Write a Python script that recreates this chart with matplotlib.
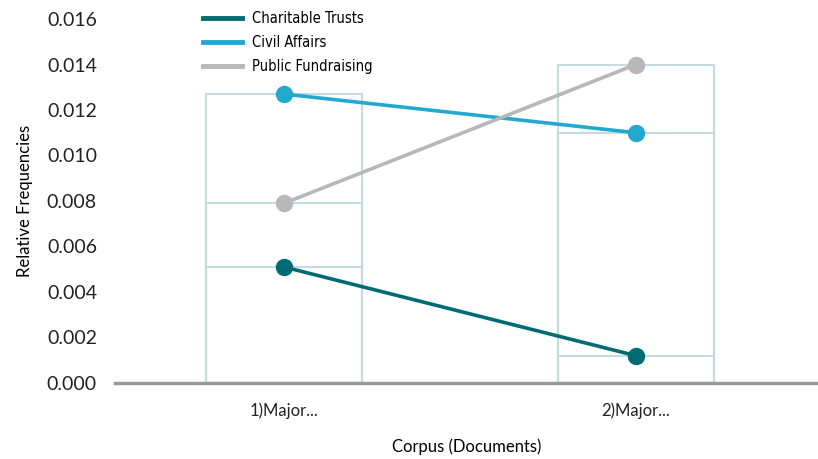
import matplotlib.pyplot as plt
import numpy as np

categories = ["1)Major...", "2)Major..."]
series_names = ["Charitable Trusts", "Civil Affairs", "Public Fundraising"]
charitable_trusts = [0.0051, 0.0012]
civil_affairs = [0.0127, 0.0110]
public_fundraising = [0.0079, 0.0140]
yticks = [0.000, 0.002, 0.004, 0.006, 0.008, 0.010, 0.012, 0.014, 0.016]

colors = ["#006b73", "#23a9cf", "#b8b8b8"]
bar_edge = "#c6dbe0"

plt.rcParams["font.family"] = ["Lato", "DejaVu Sans"]

fig = plt.figure(figsize=(8.18, 4.59), dpi=100)
ax = fig.add_axes([0.1406, 0.1656, 0.8594, 0.793])

x = np.arange(len(categories))
all_series = [charitable_trusts, civil_affairs, public_fundraising]

# outlined bars, one per series, drawn on top of each other
for vals in all_series:
    ax.bar(x, vals, width=0.445, facecolor="none", edgecolor=bar_edge,
           linewidth=1.5, zorder=1)

for name, vals, c in zip(series_names, all_series, colors):
    ax.plot(x, vals, color=c, linewidth=2.6, marker="o", markersize=11.5,
            label=name, zorder=3)

ax.set_xlim(-0.48, 1.517)
ax.set_ylim(0, 0.016)
ax.set_yticks(yticks)
ax.set_yticklabels([f"{v:.3f}" for v in yticks], fontsize=14)
ax.set_xticks(x)
ax.set_xticklabels(categories, fontsize=12)
ax.tick_params(axis="both", length=0, colors="#222222")
ax.tick_params(axis="y", pad=13)
ax.tick_params(axis="x", pad=14)

for s in ["top", "right", "left"]:
    ax.spines[s].set_visible(False)
ax.spines["bottom"].set_color("#999999")
ax.spines["bottom"].set_linewidth(2.5)
ax.spines["bottom"].set_zorder(4)

ax.set_ylabel("Relative Frequencies", fontsize=12, labelpad=10)
ax.set_xlabel("Corpus (Documents)", fontsize=12, labelpad=14)

leg = ax.legend(loc="upper left", bbox_to_anchor=(0.106, 1.057), frameon=False,
                handlelength=2.7, handletextpad=0.7, labelspacing=0.62,
                prop={"family": "DejaVu Sans", "stretch": "condensed", "size": 10.5})
for h in leg.legend_handles:
    h.set_marker("")
    h.set_linewidth(3.5)

fig.savefig("out.png", dpi=100)
